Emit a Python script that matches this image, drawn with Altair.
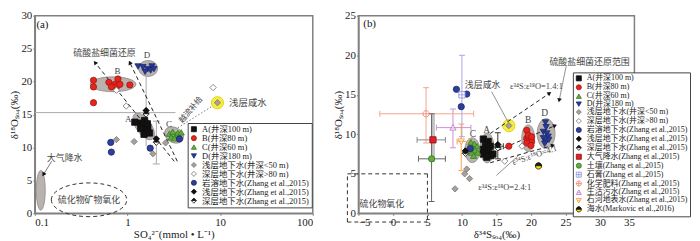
import math
import altair as alt
import pandas as pd

FONT = "Liberation Serif, Times New Roman, Noto Sans CJK SC, serif"

# ---------------- panel (a) data ----------------
catsA = ["A(井深100 m)", "B(井深80 m)", "C(井深60 m)", "D(井深180 m)",
         "浅层地下水(井深<50 m)", "深层地下水(井深>80 m)",
         "岩溶地下水(Zhang et al.,2015)", "浅层地下水(Zhang et al.,2015)",
         "深层地下水(Zhang et al.,2015)"]
a_A_x = [1.2, 1.39, 1.53, 1.47, 1.66, 1.56, 1.39, 1.73, 1.51, 1.64]
a_A_y = [13.85, 13.7, 14.1, 13.4, 13.1, 12.6, 12.9, 12.2, 12.0, 13.6]
a_B_x = [0.43, 0.43, 0.63, 0.73, 0.79, 0.76, 0.67, 0.83, 1.06, 0.43]
a_B_y = [20.2, 19.2, 19.9, 19.6, 20.4, 19.2, 19.2, 19.6, 19.5, 16.8]
a_C_x = [2.84, 3.08, 3.35, 2.96, 3.21, 3.49, 3.8]
a_C_y = [12.1, 12.4, 11.9, 11.55, 11.4, 12.2, 12.3]
a_D_x = [1.3, 1.47, 1.66, 1.84, 1.78, 1.55, 1.93]
a_D_y = [22.3, 22.2, 21.9, 22.3, 21.7, 21.5, 21.9]
a_sh_x = [0.76, 1.18, 1.88, 2.58, 9.36]
a_sh_y = [11.2, 10.9, 9.05, 10.7, 16.8]
a_dp_x = [0.76, 0.97, 8.4]
a_dp_y = [18.7, 16.3, 19.1]
a_ka_x = [0.66, 0.67, 1.76, 3.64]
a_ka_y = [10.77, 9.3, 9.9, 11.3]
a_zs_x = [1.59, 2.05]
a_zs_y = [15.6, 11.3]
a_zd_x = [1.59, 2.05]
a_zd_y = [15.1, 10.8]

# error bars (a)
a_vbar_x = [1.59, 2.05]
a_vbar_y1 = [10.2, 7.5]
a_vbar_y2 = [20.9, 14.0]
a_vbar_caps = [False, True]
a_hbar_y = [15.3]
a_hbar_x1 = [0.1]
a_hbar_x2 = [3.3]

# ellipses (a): centres
a_ell_x = [0.70, 1.67, 1.50, 3.18, 0.116]
a_ell_y = [19.6, 22.0, 13.2, 11.9, 3.5]
a_oxid_x, a_oxid_y = [0.385], [2.06]
a_salt_x, a_salt_y = [9.36], [16.8]

# lines (a)
a_lines = dict(x=[3.2, 3.45, 0.152], y=[7.9, 7.9, 7.9],
               x2=[0.447, 1.06, 0.124], y2=[22.9, 22.9, 5.9])
a_dot = dict(x=[3.5], y=[13.0], x2=[8.3], y2=[16.3])

a_text = ["硫酸盐细菌还原", "D", "B", "A", "C", "大气降水", "硫化物矿物氧化"]
a_text_x = [0.566, 1.62, 0.78, 1.02, 2.8, 0.21, 0.385]
a_text_y = [24.4, 24.0, 21.6, 14.4, 13.5, 8.4, 2.06]
a_tag, a_tag_x, a_tag_y = ["(a)"], [0.104], [28.6]
a_salt_t, a_salt_tx, a_salt_ty = ["浅层咸水"], [12.5], [16.8]
a_rot_text, a_rot_x, a_rot_y = ["越流补给"], [4.87], [15.7]

# ---------------- panel (b) data ----------------
catsB = catsA + ["大气降水(Zhang et al.,2015)", "土壤(Zhang et al.,2015)",
                 "石膏(Zhang et al.,2015)", "化学肥料(Zhang et al.,2015)",
                 "生活污水(Zhang et al.,2015)", "石河地表水(Zhang et al.,2015)",
                 "海水(Markovic et al.,2016)"]
b_A_x = [13.1, 13.8, 13.4, 14.1, 13.1, 13.8, 13.1, 14.2, 13.6, 14.5]
b_A_y = [9.4, 9.1, 8.7, 8.5, 8.1, 7.9, 7.5, 7.3, 7.1, 7.5]
b_B_x = [19.4, 19.4, 19.7, 20.1, 19.4, 20.0, 19.6, 20.1, 16.8]
b_B_y = [10.5, 9.5, 9.6, 9.1, 8.9, 8.6, 9.9, 9.7, 8.5]
b_C_x = [11.3, 11.8, 12.2, 11.6, 11.9, 11.4, 12.3, 11.7, 11.1]
b_C_y = [9.0, 8.8, 8.5, 8.3, 8.0, 7.7, 7.7, 7.3, 8.1]
b_D_x = [22.1, 22.2, 21.8, 22.3, 22.5, 21.8, 22.2, 22.6, 22.0]
b_D_y = [11.5, 10.9, 10.3, 10.1, 9.7, 9.5, 9.1, 9.3, 8.8]
b_sh_x = [10.7, 10.4, 11.1, 9.0, 16.8]
b_sh_y = [5.6, 5.0, 4.4, 3.1, 11.1]
b_dp_x = [16.2, 18.7]
b_dp_y = [6.6, 8.5]
b_ka_x = [9.2, 10.7, 9.9, 11.2]
b_ka_y = [15.7, 15.1, 13.5, 8.2]
b_zs_x, b_zs_y = [15.2, 10.5], [8.7, 7.9]
b_zd_x, b_zd_y = [15.2, 10.5], [8.3, 7.6]
b_rain_x, b_rain_y = [5.8], [9.3]
b_soil_x, b_soil_y = [5.6], [6.9]
b_gyp_x, b_gyp_y = [10.0], [15.0]
b_fert_x, b_fert_y = [4.8], [12.6]
b_sew_x, b_sew_y = [8.7], [10.85]
b_riv_x, b_riv_y = [9.9], [9.1]
b_sea_x, b_sea_y = [21.1], [6.0]

# error bars (b)
b_v = dict(x=[4.8, 8.7, 10.0, 9.9, 5.6, 15.2],
           y=[8.9, 8.3, 9.7, 5.4, 1.5, 6.9],
           y2=[15.9, 13.2, 20.0, 11.3, 12.6, 10.2],
           c=["fert", "sew", "gyp", "riv", "soil", "zs"])
b_h = dict(y=[12.6, 10.85, 9.1, 9.3, 6.9, 8.5],
           x=[-1.9, 6.3, 9.3, 3.5, 3.7, 14.4],
           x2=[11.7, 11.3, 11.0, 7.6, 7.6, 16.0],
           c=["fert", "sew", "riv", "rain", "soil", "zs"])
b_gray_bar = dict(x=[5.8], y=[6.5], y2=[12.6])

b_ell_x = [13.65, 19.6, 11.5, 22.2]
b_ell_y = [8.28, 9.5, 8.0, 10.1]
b_salt_x, b_salt_y = [16.8], [11.1]

b_box = dict(x=[-6.6, 5, -6.6, -6.6], y=[5, 5, -1.1, -1.1],
             x2=[5, 5, 5, -6.6], y2=[5, -1.1, -1.1, 5])
b_dash = dict(x=[14.1, 14.3, 14.1], y=[10.1, 7.6, 6.4],
              x2=[22.7, 23.5, 23.2], y2=[15.2, 11.1, 8.6])
b_lead = dict(x=[25.1, 14.3, 15.0], y=[18.6, 15.4, 4.8],
              x2=[24.1, 16.6, 18.3], y2=[14.3, 11.7, 7.4], arrow=[True, False, False])

b_tag, b_tag_x, b_tag_y = ["(b)"], [-4.3], [23.9]
b_lab, b_lab_x, b_lab_y = ["A", "B", "C", "D"], [13.6, 19.6, 11.6, 22.0], [10.6, 11.8, 10.1, 12.7]
b_cn, b_cn_x, b_cn_y = ["浅层咸水", "硫酸盐细菌还原范围", "硫化物氧化"], [13.0, 28.5, -1.6], [16.3, 19.2, 1.2]
b_eps, b_eps_x, b_eps_y = ["ε³⁴S:ε¹⁸O=1.4:1", "ε³⁴S:ε¹⁸O=2.4:1"], [20.8, 16.2], [16.05, 3.3]
b_rot_text, b_rot_x, b_rot_y = ["ε³⁴S:ε¹⁸O=4:1"], [20.5], [7.4]

# ---------------- styles ----------------
WA, HA = 280, 199
WB, HB = 278, 199
ELL_FILL, ELL_STROKE = "#bab2af", "#8d8684"

K = 0.5523
CIRC = "M-1,0C-1,-0.552,-0.552,-1,0,-1C0.552,-1,1,-0.552,1,0C1,0.552,0.552,1,0,1C-0.552,1,-1,0.552,-1,0Z"
DIA_HATCH = ("M0,-1L1,0L0,1L-1,0Z M-0.95,-0.05L0.95,-0.05 M-0.8,-0.2L0.8,-0.2 M-0.65,-0.35L0.65,-0.35 "
             "M-0.5,-0.5L0.5,-0.5 M-0.35,-0.65L0.35,-0.65 M-0.2,-0.8L0.2,-0.8")
CIRC_HATCH = (CIRC + " M-1,-0.05L1,-0.05 M-0.98,-0.2L0.98,-0.2 M-0.94,-0.35L0.94,-0.35 "
              "M-0.87,-0.5L0.87,-0.5 M-0.76,-0.65L0.76,-0.65 M-0.6,-0.8L0.6,-0.8 M-0.3,-0.95L0.3,-0.95")
CIRC_CROSS = CIRC + " M-1,0L1,0 M0,-1L0,1"
SQ_CROSS = "M-1,-1L1,-1L1,1L-1,1Z M-1,0L1,0 M0,-1L0,1"
TRI_LINE = "M0,-1L1,0.8L-1,0.8Z M-0.55,0.1L0.55,0.1"
TRID_LINE = "M-1,-0.8L1,-0.8L0,1Z M-0.55,-0.1L0.55,-0.1"

shapesA = ["square", "circle", "triangle-up", "triangle-down", "diamond", "diamond",
           "circle", DIA_HATCH, DIA_HATCH]
fillsA = ["#111111", "#e8221c", "#5fae3e", "#263b93", "#a7a19e", "#ffffff",
          "#2d3f9b", "#111111", "#ffffff"]
strokesA = ["#111111", "#a01a14", "#3a7a25", "#1a2870", "#7a7471", "#707070",
            "#1b2766", "#111111", "#111111"]
shapesB = shapesA + ["square", "circle", SQ_CROSS, CIRC_CROSS, TRI_LINE, TRID_LINE, CIRC_HATCH]
fillsB = fillsA + ["#e31e24", "#5fae3e", "#ffffff", "#ffffff", "#ffffff", "#ffffff", "#ffe600"]
strokesB = strokesA + ["#8b1010", "#2f7020", "#8c8cd8", "#f07c68", "#c070c0", "#f5902a", "#111111"]
ERRC = {"fert": "#f5a38f", "sew": "#cf8fd6", "gyp": "#a6a6e6", "riv": "#f7a64a",
        "rain": "#888888", "soil": "#666666", "zs": "#333333"}


def ellipse_path(r):
    return (f"M-1,0C-1,{-K*r:.3f},{-K:.3f},{-r:.3f},0,{-r:.3f}"
            f"C{K:.3f},{-r:.3f},1,{-K*r:.3f},1,0"
            f"C1,{K*r:.3f},{K:.3f},{r:.3f},0,{r:.3f}"
            f"C{-K:.3f},{r:.3f},-1,{K*r:.3f},-1,0Z")


def pts_frame(groups):
    rows = []
    for cat, xs, ys in groups:
        for x, y in zip(xs, ys):
            rows.append({"x": x, "y": y, "cat": cat})
    return pd.DataFrame(rows)


# ---------------- scales / encodings ----------------
sxA = alt.Scale(type="log", domain=[0.1, 100], nice=False)
syA = alt.Scale(domain=[0, 30], nice=False, zero=False)
sxB = alt.Scale(domain=[-5, 35], nice=False, zero=False)
syB = alt.Scale(domain=[0, 25], nice=False, zero=False)

axXA = alt.Axis(values=[0.1, 1, 10, 100], format="~g", title="SO₄²⁻(mmol • L⁻¹)")
axYA = alt.Axis(values=list(range(0, 31, 5)), title="δ¹⁸Oₛₒ₄(‰)")
axXB = alt.Axis(values=list(range(-5, 36, 5)), title="δ³⁴Sₛₒ₄(‰)")
axYB = alt.Axis(values=list(range(0, 26, 5)), title="δ¹⁸Oₛₒ₄(‰)")


def encA():
    return dict(x=alt.X("x:Q", scale=sxA, axis=axXA), y=alt.Y("y:Q", scale=syA, axis=axYA))


def encB():
    return dict(x=alt.X("x:Q", scale=sxB, axis=axXB), y=alt.Y("y:Q", scale=syB, axis=axYB))


def pix_a(x, y):
    return WA * (math.log10(x) + 1) / 3, HA * (1 - y / 30)


def pix_b(x, y):
    return WB * (x + 5) / 40, HB * (1 - y / 25)


def arrow_rows(d, pix, mask=None):
    rows = []
    for i in range(len(d["x"])):
        if mask is not None and not mask[i]:
            continue
        p0 = pix(d["x"][i], d["y"][i])
        p1 = pix(d["x2"][i], d["y2"][i])
        ang = math.degrees(math.atan2(p1[0] - p0[0], -(p1[1] - p0[1]))) % 360
        rows.append({"x": d["x2"][i], "y": d["y2"][i], "ang": ang})
    return pd.DataFrame(rows)


def text_layer(enc, txt, xs, ys, size=9, align="center", angle=0, color="#444444"):
    df = pd.DataFrame({"x": xs, "y": ys, "t": txt})
    return alt.Chart(df).mark_text(font=FONT, fontSize=size, align=align, baseline="middle",
                                   angle=angle, color=color, clip=False).encode(
        **enc(), text="t:N")


def legend_for(lx, ly, rowpad, fs):
    return alt.Legend(title=None, orient="none", legendX=lx, legendY=ly, fillColor="white",
                      strokeColor="#444444", padding=2, rowPadding=rowpad,
                      labelFont=FONT, labelFontSize=fs, labelColor="#222222",
                      symbolSize=26, symbolStrokeWidth=0.8, symbolOpacity=1, labelOffset=4,
                      labelLimit=0)


def points_layer(enc, df, cats, shapes, fills, strokes, leg):
    return alt.Chart(df).mark_point(filled=True, size=40, opacity=1, strokeWidth=0.8).encode(
        **enc(),
        shape=alt.Shape("cat:N", scale=alt.Scale(domain=cats, range=shapes), legend=leg, sort=cats),
        fill=alt.Fill("cat:N", scale=alt.Scale(domain=cats, range=fills), legend=leg, sort=cats),
        stroke=alt.Stroke("cat:N", scale=alt.Scale(domain=cats, range=strokes), legend=leg, sort=cats),
        order=alt.Order("ord:Q"))


# ---------------- panel (a) ----------------
ell_style_a = [(46, 15, 0), (19, 16, 0), (31, 15, 55), (20, 15, 30), (40, 9, 90)]
layersA = []
for (cx, cy), (w, h, ang) in zip(zip(a_ell_x, a_ell_y), ell_style_a):
    layersA.append(alt.Chart(pd.DataFrame({"x": [cx], "y": [cy]})).mark_point(
        shape=ellipse_path(h / w), size=w * w, angle=ang, filled=True, fill=ELL_FILL,
        stroke=ELL_STROKE, strokeWidth=0.8, opacity=1).encode(**encA()))
layersA.append(alt.Chart(pd.DataFrame({"x": a_oxid_x, "y": a_oxid_y})).mark_point(
    shape=ellipse_path(34 / 76), size=76 * 76, filled=False, stroke="#333333", strokeWidth=1,
    strokeDash=[4, 3], opacity=1).encode(**encA()))
layersA.append(alt.Chart(pd.DataFrame({"x": a_salt_x, "y": a_salt_y})).mark_point(
    shape="circle", size=150, filled=True, fill="#f7ee3b", stroke="#e2d21c", strokeWidth=1,
    opacity=1).encode(**encA()))

vbA = pd.DataFrame({"x": a_vbar_x, "y": a_vbar_y1, "y2": a_vbar_y2})
layersA.append(alt.Chart(vbA).mark_rule(color="#aaaaaa", strokeWidth=1).encode(
    **encA(), y2="y2:Q"))
capsA = pd.DataFrame({"x": [x for x, c in zip(a_vbar_x, a_vbar_caps) if c] * 2,
                      "y": [y for y, c in zip(a_vbar_y1, a_vbar_caps) if c] +
                           [y for y, c in zip(a_vbar_y2, a_vbar_caps) if c]})
layersA.append(alt.Chart(capsA).mark_tick(orient="horizontal", size=7, thickness=1,
                                          color="#aaaaaa", opacity=1).encode(**encA()))
hbA = pd.DataFrame({"x": a_hbar_x1, "x2": a_hbar_x2, "y": a_hbar_y})
layersA.append(alt.Chart(hbA).mark_rule(color="#aaaaaa", strokeWidth=1).encode(
    **encA(), x2="x2:Q"))

linesA = pd.DataFrame(a_lines)
layersA.append(alt.Chart(linesA.iloc[:2]).mark_rule(color="#222222", strokeWidth=1,
                                                    strokeDash=[4, 3]).encode(
    **encA(), x2="x2:Q", y2="y2:Q"))
layersA.append(alt.Chart(linesA.iloc[2:]).mark_rule(color="#555555", strokeWidth=0.8).encode(
    **encA(), x2="x2:Q", y2="y2:Q"))
layersA.append(alt.Chart(pd.DataFrame(a_dot)).mark_rule(color="#333333", strokeWidth=1,
                                                        strokeDash=[1, 2.5]).encode(
    **encA(), x2="x2:Q", y2="y2:Q"))
layersA.append(alt.Chart(arrow_rows(a_lines, pix_a)).mark_point(
    shape="triangle-up", size=22, filled=True, color="#111111", opacity=1).encode(
    **encA(), angle=alt.Angle("ang:Q", scale=None)))

ptsA = pts_frame([(catsA[0], a_A_x, a_A_y), (catsA[1], a_B_x, a_B_y), (catsA[2], a_C_x, a_C_y),
                  (catsA[3], a_D_x, a_D_y), (catsA[4], a_sh_x, a_sh_y), (catsA[5], a_dp_x, a_dp_y),
                  (catsA[6], a_ka_x, a_ka_y), (catsA[8], a_zd_x, a_zd_y),
                  (catsA[7], a_zs_x, a_zs_y)])
ptsA["ord"] = range(len(ptsA))
layersA.append(points_layer(encA, ptsA, catsA, shapesA, fillsA, strokesA,
                            legend_for(154, 108, -0.3, 8.5)))

layersA.append(text_layer(encA, a_tag, a_tag_x, a_tag_y, size=11, align="left", color="#111111"))
layersA.append(text_layer(encA, a_text, a_text_x, a_text_y, size=9))
layersA.append(text_layer(encA, a_salt_t, a_salt_tx, a_salt_ty, size=9.5, align="left"))
layersA.append(text_layer(encA, a_rot_text, a_rot_x, a_rot_y, size=8, angle=310))
panelA = alt.layer(*layersA).properties(width=WA, height=HA)

# ---------------- panel (b) ----------------
ell_style_b = [(30, 14, 90), (27, 13, 90), (25, 15, 90), (30, 18, 90)]
layersB = []
for (cx, cy), (w, h, ang) in zip(zip(b_ell_x, b_ell_y), ell_style_b):
    layersB.append(alt.Chart(pd.DataFrame({"x": [cx], "y": [cy]})).mark_point(
        shape=ellipse_path(h / w), size=w * w, angle=ang, filled=True, fill=ELL_FILL,
        stroke=ELL_STROKE, strokeWidth=0.8, opacity=1).encode(**encB()))
layersB.append(alt.Chart(pd.DataFrame({"x": b_salt_x, "y": b_salt_y})).mark_point(
    shape="circle", size=150, filled=True, fill="#f7ee3b", stroke="#e2d21c", strokeWidth=1,
    opacity=1).encode(**encB()))

layersB.append(alt.Chart(pd.DataFrame(b_gray_bar)).mark_rule(color="#c4c4c4", strokeWidth=4).encode(
    **encB(), y2="y2:Q"))
errc_scale = alt.Scale(domain=list(ERRC.keys()), range=list(ERRC.values()))
vB = pd.DataFrame(b_v)
hB = pd.DataFrame(b_h)
layersB.append(alt.Chart(vB).mark_rule(strokeWidth=1).encode(
    **encB(), y2="y2:Q", color=alt.Color("c:N", scale=errc_scale, legend=None)))
layersB.append(alt.Chart(hB).mark_rule(strokeWidth=1).encode(
    **encB(), x2="x2:Q", color=alt.Color("c:N", scale=errc_scale, legend=None)))
capv = pd.DataFrame({"x": list(vB.x) * 2, "y": list(vB.y) + list(vB.y2), "c": list(vB.c) * 2})
caph = pd.DataFrame({"x": list(hB.x) + list(hB.x2), "y": list(hB.y) * 2, "c": list(hB.c) * 2})
layersB.append(alt.Chart(capv).mark_tick(orient="horizontal", size=6, thickness=1, opacity=1).encode(
    **encB(), color=alt.Color("c:N", scale=errc_scale, legend=None)))
layersB.append(alt.Chart(caph).mark_tick(orient="vertical", size=6, thickness=1, opacity=1).encode(
    **encB(), color=alt.Color("c:N", scale=errc_scale, legend=None)))

layersB.append(alt.Chart(pd.DataFrame(b_box)).mark_rule(color="#333333", strokeWidth=1,
                                                        strokeDash=[4, 3], clip=False).encode(
    **encB(), x2="x2:Q", y2="y2:Q"))
layersB.append(alt.Chart(pd.DataFrame(b_dash)).mark_rule(color="#222222", strokeWidth=1,
                                                         strokeDash=[4, 3]).encode(
    **encB(), x2="x2:Q", y2="y2:Q"))
leadB = pd.DataFrame({k: v for k, v in b_lead.items() if k != "arrow"})
layersB.append(alt.Chart(leadB).mark_rule(color="#777777", strokeWidth=0.8).encode(
    **encB(), x2="x2:Q", y2="y2:Q"))
arrB = pd.concat([arrow_rows(b_dash, pix_b), arrow_rows(b_lead, pix_b, b_lead["arrow"])])
layersB.append(alt.Chart(arrB).mark_point(
    shape="triangle-up", size=22, filled=True, color="#111111", opacity=1).encode(
    **encB(), angle=alt.Angle("ang:Q", scale=None)))

ptsB = pts_frame([(catsB[0], b_A_x, b_A_y), (catsB[1], b_B_x, b_B_y), (catsB[2], b_C_x, b_C_y),
                  (catsB[3], b_D_x, b_D_y), (catsB[4], b_sh_x, b_sh_y), (catsB[5], b_dp_x, b_dp_y),
                  (catsB[6], b_ka_x, b_ka_y), (catsB[8], b_zd_x, b_zd_y),
                  (catsB[7], b_zs_x, b_zs_y),
                  (catsB[9], b_rain_x, b_rain_y), (catsB[10], b_soil_x, b_soil_y),
                  (catsB[11], b_gyp_x, b_gyp_y), (catsB[12], b_fert_x, b_fert_y),
                  (catsB[13], b_sew_x, b_sew_y), (catsB[14], b_riv_x, b_riv_y),
                  (catsB[15], b_sea_x, b_sea_y)])
ptsB["ord"] = range(len(ptsB))
layersB.append(points_layer(encB, ptsB, catsB, shapesB, fillsB, strokesB,
                            legend_for(216, 57, -1.0, 8)))

layersB.append(text_layer(encB, b_tag, b_tag_x, b_tag_y, size=11, align="left", color="#111111"))
layersB.append(text_layer(encB, b_lab, b_lab_x, b_lab_y, size=9.5))
layersB.append(text_layer(encB, b_cn, b_cn_x, b_cn_y, size=9))
layersB.append(text_layer(encB, b_eps, b_eps_x, b_eps_y, size=8.5))
layersB.append(text_layer(encB, b_rot_text, b_rot_x, b_rot_y, size=8.5, angle=342))
panelB = alt.layer(*layersB).properties(width=WB, height=HB)

chart = alt.hconcat(panelA, panelB, spacing=46, bounds="flush").resolve_scale(
    x="independent", y="independent", shape="independent", fill="independent",
    stroke="independent", color="independent"
).properties(padding=0, background="white").configure_view(
    stroke="#808080", strokeWidth=1.5, fill="white"
).configure_axis(
    labelFont=FONT, titleFont=FONT, labelFontSize=11, titleFontSize=11,
    labelColor="#222222", titleColor="#222222", titleFontWeight="normal",
    domainColor="#808080", domainWidth=1.5, tickColor="#808080", tickSize=2,
    grid=False, labelPadding=1, titlePadding=1
)

chart.save("out.html", embed_options={"renderer": "svg", "actions": False})
